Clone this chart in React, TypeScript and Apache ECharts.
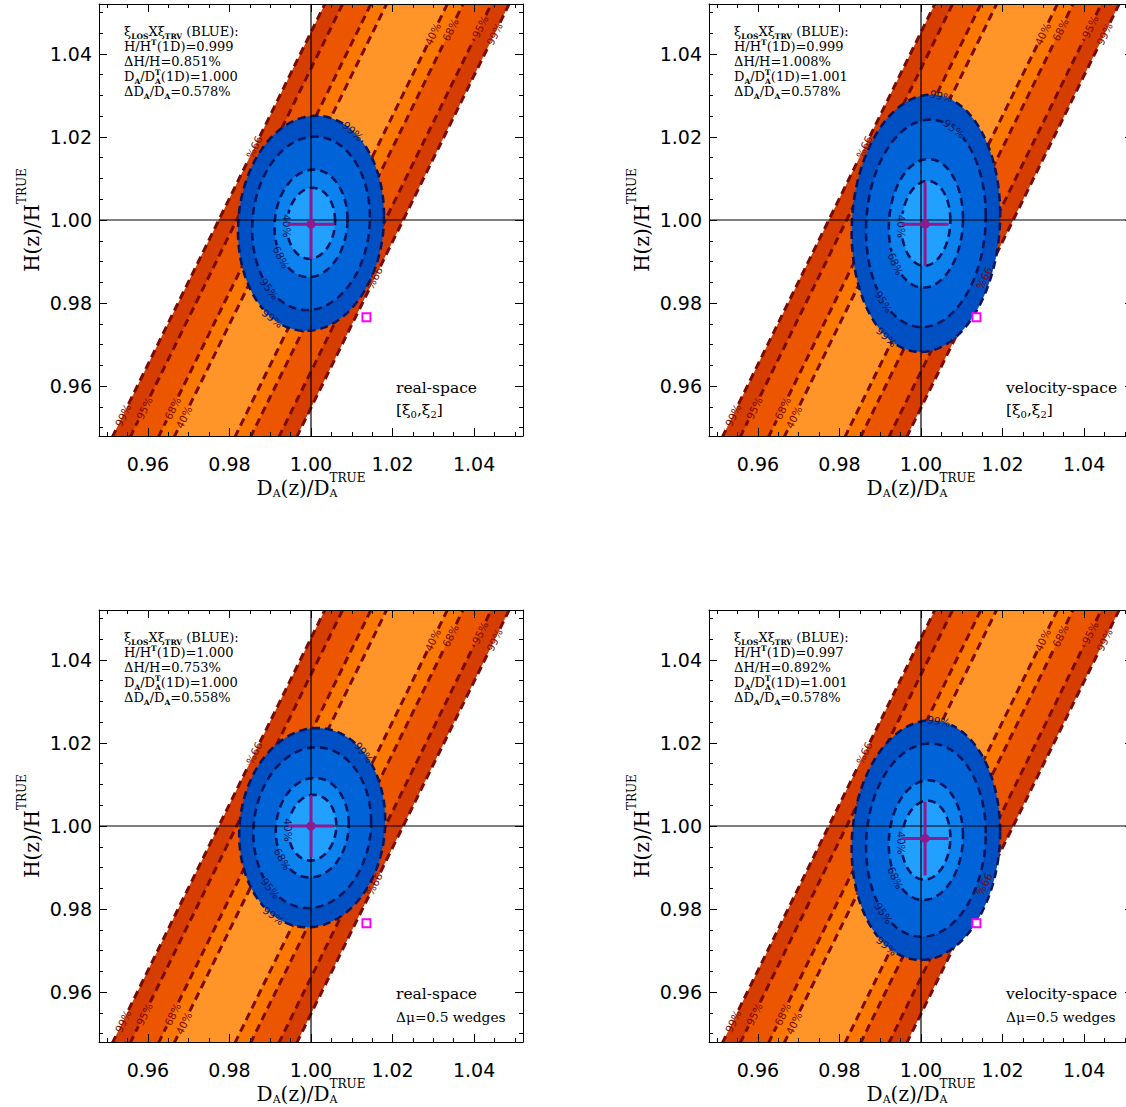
import React, { useEffect, useRef } from "react";
import * as echarts from "echarts";

// ---- axes (shared by the four panels) ----
const AXIS_MIN = 0.948;
const AXIS_MAX = 1.052;
const MAJOR_TICKS = [0.96, 0.98, 1.0, 1.02, 1.04];
const MINOR_TICKS = [
  0.95, 0.955, 0.96, 0.965, 0.97, 0.975, 0.98, 0.985, 0.99, 0.995, 1.0,
  1.005, 1.01, 1.015, 1.02, 1.025, 1.03, 1.035, 1.04, 1.045, 1.05,
];

// ---- confidence levels, outermost first (2-D delta chi-square) ----
const LEVEL_NAMES = ["99%", "95%", "68%", "40%"];
const LEVEL_CHI2 = [9.21, 5.99, 2.3, 1.0];

// ---- orange degeneracy band: centre, dx/dy slope, 1-sigma horizontal width ----
const BAND_CENTER = [1.0, 1.0];
const BAND_DXDY = 0.5;
const BAND_SIGMA_X = 0.00745;

// ---- blue constraints (xi_LOS x xi_TRV), one entry per panel ----
const SPACE_TAGS = ["real-space", "velocity-space", "real-space", "velocity-space"];
const ESTIMATOR_TAGS = ["multipoles", "multipoles", "wedges", "wedges"];
// 1-D marginalised results (point + error bars)
const H_FIT = [0.999, 0.999, 1.0, 0.997];
const H_ERR_PCT = [0.851, 1.008, 0.753, 0.892];
const DA_FIT = [1.0, 1.001, 1.0, 1.001];
const DA_ERR_PCT = [0.578, 0.578, 0.558, 0.578];
// 2-D likelihood ellipse: centre, widths and correlation
const ELL_X0 = [1.0, 1.0012, 1.0003, 1.0012];
const ELL_Y0 = [0.9992, 0.9992, 0.9996, 0.9966];
const ELL_SX = [0.0059, 0.006, 0.0059, 0.006];
const ELL_SY = [0.00853, 0.0102, 0.0079, 0.0095];
const ELL_RHO = [0.07, 0.07, 0.07, 0.07];

// ---- reference marker ----
const REF_POINT = [1.0136, 0.9766];

// ---- contour label placement ----
const BAND_LABEL_Y_LOW = [0.953, 0.9547, 0.9547, 0.9525]; // left edges, near the bottom
const BAND_LABEL_Y_HIGH = [1.0448, 1.0465, 1.0458, 1.0448]; // right edges, near the top
const BAND_LABEL_Y_MID = [1.0175, 0.986]; // 99% edges beside the ellipse (left, right)
const ELLIPSE_LABEL_ANGLES = [
  [[3, 180], [2, 215], [1, 225], [0, 238], [0, 55]],
  [[3, 180], [2, 215], [1, 225], [0, 238], [0, 78], [1, 62]],
  [[3, 180], [2, 215], [1, 225], [0, 238], [0, 45]],
  [[3, 180], [2, 215], [1, 225], [0, 238], [0, 80]],
];

// ---- layout & style ----
const GRID_LEFT = [99, 709, 99, 709];
const GRID_TOP = [4, 4, 610, 610];
const GRID_W = 424;
const GRID_H = 432;
const ORANGE_FILLS = ["#D63D00", "#EC5600", "#FA7700", "#FF9529"];
const BLUE_FILLS = ["#0050C4", "#0064D8", "#0C82EE", "#21A0FF"];
const ORANGE_LINE = "#7A0A05";
const BLUE_LINE = "#08155E";
const PURPLE = "#8E1A8E";
const SANS = '"DejaVu Sans", sans-serif';
const SERIF = '"DejaVu Serif", serif';
const LABEL_GAP = 12; // px of contour line left out around each level label

let measureCtx: CanvasRenderingContext2D | null = null;
function textWidth(t: string, font: string): number {
  if (!measureCtx) measureCtx = document.createElement("canvas").getContext("2d");
  measureCtx!.font = font;
  return measureCtx!.measureText(t).width;
}

type Seg = { t: string; s?: number; dy?: number; bold?: boolean; stack?: boolean };

// lays out a run of text pieces (with sub/superscripts) along a common baseline at y = 0
function layoutSegs(segs: Seg[], family: string, base: number, color: string) {
  const items: any[] = [];
  let x = 0;
  let stackW = 0;
  let stacked = false;
  for (const sg of segs) {
    const size = sg.s ?? base;
    const font = `${sg.bold ? "bold " : ""}${size}px ${family}`;
    const w = textWidth(sg.t, font);
    items.push({
      type: "text",
      x,
      y: (sg.dy ?? 0) - 0.32 * size,
      style: { text: sg.t, font, fill: color, textAlign: "left", textVerticalAlign: "middle" },
    });
    if (sg.stack) {
      stackW = Math.max(stackW, w);
      stacked = true;
    } else {
      x += stacked ? Math.max(stackW, w) : w;
      stacked = false;
      stackW = 0;
    }
  }
  return { items, width: x };
}

function mathText(x: number, y: number, segs: Seg[], family: string, base: number, color: string, align: "left" | "center", rotation = 0) {
  const { items, width } = layoutSegs(segs, family, base, color);
  return {
    type: "group",
    x,
    y,
    rotation,
    children: [{ type: "group", x: align === "center" ? -width / 2 : 0, y: 0, children: items }],
  };
}

const bandX = (y: number) => BAND_CENTER[0] + BAND_DXDY * (y - BAND_CENTER[1]);

function ellipsePoint(p: number, k: number, t: number): number[] {
  const r = ELL_RHO[p];
  return [
    ELL_X0[p] + k * ELL_SX[p] * Math.cos(t),
    ELL_Y0[p] + k * ELL_SY[p] * (r * Math.cos(t) + Math.sqrt(1 - r * r) * Math.sin(t)),
  ];
}

// label rows: [kind, level, param, flip]; kind 0/1 = band left/right edge at y=param, kind 2 = ellipse at angle=param
function labelRows(p: number): number[][] {
  const rows: number[][] = [];
  LEVEL_NAMES.forEach((_, i) => rows.push([0, i, BAND_LABEL_Y_LOW[i], 0]));
  LEVEL_NAMES.forEach((_, i) => rows.push([1, i, BAND_LABEL_Y_HIGH[i], 0]));
  rows.push([0, 0, BAND_LABEL_Y_MID[0], 1]);
  rows.push([1, 0, BAND_LABEL_Y_MID[1], 1]);
  ELLIPSE_LABEL_ANGLES[p].forEach(([lv, ang]) => rows.push([2, lv, ang, 0]));
  return rows;
}

function normRot(r: number, flip: boolean) {
  while (r > Math.PI / 2 + 1e-6) r -= Math.PI;
  while (r <= -Math.PI / 2 + 1e-6) r += Math.PI;
  return flip ? r + Math.PI : r;
}

type Anchor = { x: number; y: number; rot: number; lv: number; key: string; band: boolean };

function anchorFor(p: number, row: number[], api: any): Anchor {
  const [kind, lv, param, flipFlag] = row;
  const k = Math.sqrt(LEVEL_CHI2[lv]);
  let a: number[];
  let b: number[];
  let key: string;
  if (kind < 2) {
    const side = kind === 0 ? -1 : 1;
    a = api.coord([bandX(param) + side * k * BAND_SIGMA_X, param]);
    b = api.coord([bandX(param + 0.002) + side * k * BAND_SIGMA_X, param + 0.002]);
    key = `b${side}_${lv}`;
  } else {
    const t = (param * Math.PI) / 180;
    a = api.coord(ellipsePoint(p, k, t));
    b = api.coord(ellipsePoint(p, k, t + 0.02));
    key = `e_${lv}`;
  }
  const rot = normRot(Math.atan2(-(b[1] - a[1]), b[0] - a[0]), flipFlag === 1);
  return { x: a[0], y: a[1], rot, lv, key, band: kind < 2 };
}

// splits a sampled contour into visible runs, leaving gaps where labels sit
function splitRuns(pts: number[][], anchors: Anchor[]): number[][][] {
  const runs: number[][][] = [];
  let cur: number[][] = [];
  for (const q of pts) {
    const hidden = anchors.some((a) => Math.hypot(q[0] - a.x, q[1] - a.y) < LABEL_GAP);
    if (hidden) {
      if (cur.length > 1) runs.push(cur);
      cur = [];
    } else cur.push(q);
  }
  if (cur.length > 1) runs.push(cur);
  return runs;
}

function panelAxes(p: number) {
  const base = { type: "value", gridIndex: p, min: AXIS_MIN, max: AXIS_MAX, splitLine: { show: false }, z: 10, silent: true };
  const line = { show: true, onZero: false, lineStyle: { color: "#000", width: 1 } };
  const noLine = { show: false, onZero: false };
  const tick = (vals: number[], len: number) => ({ show: true, inside: true, length: len, customValues: vals, lineStyle: { color: "#000", width: 1 } });
  const label = (margin: number) => ({
    show: true,
    customValues: MAJOR_TICKS,
    formatter: (v: number) => v.toFixed(2),
    margin,
    fontSize: 19,
    fontFamily: SANS,
    color: "#000",
  });
  const hidden = { show: false };
  const xs = [
    { ...base, position: "bottom", axisLine: line, axisTick: tick(MAJOR_TICKS, 8), axisLabel: label(18) },
    { ...base, position: "bottom", axisLine: noLine, axisTick: tick(MINOR_TICKS, 4), axisLabel: hidden },
    { ...base, position: "top", axisLine: line, axisTick: tick(MAJOR_TICKS, 8), axisLabel: hidden },
    { ...base, position: "top", axisLine: noLine, axisTick: tick(MINOR_TICKS, 4), axisLabel: hidden },
  ];
  const ys = [
    { ...base, position: "left", axisLine: line, axisTick: tick(MAJOR_TICKS, 8), axisLabel: label(7) },
    { ...base, position: "left", axisLine: noLine, axisTick: tick(MINOR_TICKS, 4), axisLabel: hidden },
    { ...base, position: "right", axisLine: line, axisTick: tick(MAJOR_TICKS, 8), axisLabel: hidden },
    { ...base, position: "right", axisLine: noLine, axisTick: tick(MINOR_TICKS, 4), axisLabel: hidden },
  ];
  return { xs, ys };
}

function panelSeries(p: number) {
  const ax = { xAxisIndex: 4 * p, yAxisIndex: 4 * p, silent: true, clip: true };
  const levels = LEVEL_CHI2.map((c, i) => [c, i]);
  const yEnds = [AXIS_MIN - 0.02, AXIS_MAX + 0.02];
  const rows = labelRows(p);
  const anchorsOf = (api: any) => rows.map((r) => anchorFor(p, r, api));

  const bandFill = {
    type: "custom",
    ...ax,
    z: 1,
    data: levels,
    renderItem: (_: any, api: any) => {
      const i = api.value(1);
      const hw = Math.sqrt(api.value(0)) * BAND_SIGMA_X;
      const pts = [
        [bandX(yEnds[0]) - hw, yEnds[0]],
        [bandX(yEnds[1]) - hw, yEnds[1]],
        [bandX(yEnds[1]) + hw, yEnds[1]],
        [bandX(yEnds[0]) + hw, yEnds[0]],
      ].map((q) => api.coord(q));
      return { type: "polygon", shape: { points: pts }, style: { fill: ORANGE_FILLS[i] } };
    },
  };

  const bandLines = {
    type: "custom",
    ...ax,
    z: 2,
    data: levels,
    renderItem: (_: any, api: any) => {
      const lv = api.value(1);
      const hw = Math.sqrt(api.value(0)) * BAND_SIGMA_X;
      const anchors = anchorsOf(api);
      const children: any[] = [];
      [-1, 1].forEach((side) => {
        const pts: number[][] = [];
        const n = 400;
        for (let j = 0; j <= n; j++) {
          const y = yEnds[0] + ((yEnds[1] - yEnds[0]) * j) / n;
          pts.push(api.coord([bandX(y) + side * hw, y]));
        }
        const mine = anchors.filter((a) => a.key === `b${side}_${lv}`);
        splitRuns(pts, mine).forEach((run) =>
          children.push({
            type: "polyline",
            shape: { points: run },
            style: { stroke: ORANGE_LINE, lineWidth: 3, lineDash: [8, 5], fill: "none" },
          }),
        );
      });
      return { type: "group", children };
    },
  };

  const ellipsePts = (api: any, k: number) => {
    const pts: number[][] = [];
    for (let j = 0; j <= 360; j++) pts.push(api.coord(ellipsePoint(p, k, (j / 360) * 2 * Math.PI)));
    return pts;
  };

  const ellipseFill = {
    type: "custom",
    ...ax,
    z: 3,
    data: levels,
    renderItem: (_: any, api: any) => ({
      type: "polygon",
      shape: { points: ellipsePts(api, Math.sqrt(api.value(0))) },
      style: { fill: BLUE_FILLS[api.value(1)] },
    }),
  };

  const ellipseLines = {
    type: "custom",
    ...ax,
    z: 4,
    data: levels,
    renderItem: (_: any, api: any) => {
      const lv = api.value(1);
      const mine = anchorsOf(api).filter((a) => a.key === `e_${lv}`);
      const runs = splitRuns(ellipsePts(api, Math.sqrt(api.value(0))), mine);
      return {
        type: "group",
        children: runs.map((run) => ({
          type: "polyline",
          shape: { points: run },
          style: { stroke: BLUE_LINE, lineWidth: 2.6, lineDash: [8, 5], fill: "none" },
        })),
      };
    },
  };

  const crosshair = {
    type: "custom",
    ...ax,
    z: 5,
    data: [[1.0, 1.0]],
    renderItem: (_: any, api: any) => {
      const x = api.value(0);
      const y = api.value(1);
      const v0 = api.coord([x, AXIS_MIN]);
      const v1 = api.coord([x, AXIS_MAX]);
      const h0 = api.coord([AXIS_MIN, y]);
      const h1 = api.coord([AXIS_MAX, y]);
      return {
        type: "group",
        children: [
          { type: "line", shape: { x1: v0[0], y1: v0[1], x2: v1[0], y2: v1[1] }, style: { stroke: "#000", lineWidth: 1.2 } },
          { type: "line", shape: { x1: h0[0], y1: h0[1], x2: h1[0], y2: h1[1] }, style: { stroke: "#000", lineWidth: 1.2 } },
        ],
      };
    },
  };

  const labels = {
    type: "custom",
    ...ax,
    clip: false,
    z: 6,
    data: rows,
    renderItem: (params: any, api: any) => {
      const a = anchorFor(p, rows[params.dataIndex], api);
      return {
        type: "text",
        x: a.x,
        y: a.y,
        rotation: a.rot,
        style: {
          text: LEVEL_NAMES[a.lv],
          font: `10.5px ${SANS}`,
          fill: a.band ? ORANGE_LINE : BLUE_LINE,
          textAlign: "center",
          textVerticalAlign: "middle",
        },
      };
    },
  };

  const errBar = {
    type: "custom",
    ...ax,
    z: 7,
    data: [[DA_FIT[p], H_FIT[p], (DA_ERR_PCT[p] / 100) * DA_FIT[p], (H_ERR_PCT[p] / 100) * H_FIT[p]]],
    renderItem: (_: any, api: any) => {
      const x = api.value(0);
      const y = api.value(1);
      const ex = api.value(2);
      const ey = api.value(3);
      const c = api.coord([x, y]);
      const l = api.coord([x - ex, y]);
      const r = api.coord([x + ex, y]);
      const d = api.coord([x, y - ey]);
      const u = api.coord([x, y + ey]);
      return {
        type: "group",
        children: [
          { type: "line", shape: { x1: l[0], y1: l[1], x2: r[0], y2: r[1] }, style: { stroke: PURPLE, lineWidth: 3 } },
          { type: "line", shape: { x1: d[0], y1: d[1], x2: u[0], y2: u[1] }, style: { stroke: PURPLE, lineWidth: 3 } },
          { type: "circle", shape: { cx: c[0], cy: c[1], r: 4.5 }, style: { fill: PURPLE } },
        ],
      };
    },
  };

  const refMarker = {
    type: "scatter",
    xAxisIndex: 4 * p,
    yAxisIndex: 4 * p,
    silent: true,
    z: 8,
    data: [REF_POINT],
    symbol: "rect",
    symbolSize: 8,
    itemStyle: { color: "#ffffff", borderColor: "#FF00FF", borderWidth: 2, opacity: 1 },
  };

  return [bandFill, bandLines, ellipseFill, ellipseLines, crosshair, labels, errBar, refMarker];
}

function panelGraphics(p: number) {
  const left = GRID_LEFT[p];
  const top = GRID_TOP[p];
  const els: any[] = [];

  // axis titles
  const sub = { s: 11, dy: 3 };
  const sup = { s: 12, dy: -12 };
  els.push(
    mathText(left + GRID_W / 2, top + GRID_H + 58, [
      { t: "D", s: 20 },
      { t: "A", ...sub },
      { t: "(z)/D", s: 20 },
      { t: "A", ...sub, stack: true },
      { t: "TRUE", ...sup },
    ], SERIF, 20, "#000", "center"),
  );
  els.push(
    mathText(left - 61, top + GRID_H / 2, [
      { t: "H(z)/H", s: 20 },
      { t: "TRUE", ...sup },
    ], SERIF, 20, "#000", "center", Math.PI / 2),
  );

  // fit summary block
  const fs = 13;
  const small = 7.5;
  const ax = left + 25;
  const lines: Seg[][] = [
    [
      { t: "ξ" },
      { t: "LOS", s: small, dy: 3, bold: true },
      { t: "X" },
      { t: "ξ" },
      { t: "TRV", s: small, dy: 3, bold: true },
      { t: " (BLUE):" },
    ],
    [{ t: "H/H" }, { t: "T", s: small, dy: -6, bold: true }, { t: `(1D)=${H_FIT[p].toFixed(3)}` }],
    [{ t: `ΔH/H=${H_ERR_PCT[p].toFixed(3)}%` }],
    [
      { t: "D" },
      { t: "A", s: small, dy: 3, bold: true },
      { t: "/D" },
      { t: "A", s: small, dy: 3, bold: true, stack: true },
      { t: "T", s: small, dy: -6, bold: true },
      { t: `(1D)=${DA_FIT[p].toFixed(3)}` },
    ],
    [
      { t: "ΔD" },
      { t: "A", s: small, dy: 3, bold: true },
      { t: "/D" },
      { t: "A", s: small, dy: 3, bold: true },
      { t: `=${DA_ERR_PCT[p].toFixed(3)}%` },
    ],
  ];
  lines.forEach((segs, i) => els.push(mathText(ax, top + 32 + i * 15, segs, SERIF, fs, "#000", "left")));

  // space / estimator tags
  const tx = left + 297;
  els.push(mathText(tx, top + 389, [{ t: SPACE_TAGS[p] }], SERIF, 15.5, "#000", "left"));
  const second: Seg[] =
    ESTIMATOR_TAGS[p] === "wedges"
      ? [{ t: "Δμ=0.5 wedges" }]
      : [{ t: "[ξ" }, { t: "0", s: 10, dy: 3 }, { t: ",ξ" }, { t: "2", s: 10, dy: 3 }, { t: "]" }];
  els.push(mathText(tx, top + 411, second, SERIF, ESTIMATOR_TAGS[p] === "wedges" ? 13.8 : 15.5, "#000", "left"));
  return els;
}

export default function App() {
  const ref = useRef<HTMLDivElement>(null);
  useEffect(() => {
    if (!ref.current) return;
    const chart = echarts.init(ref.current, undefined, { renderer: "svg" });
    const grids: any[] = [];
    const xAxis: any[] = [];
    const yAxis: any[] = [];
    const series: any[] = [];
    const graphics: any[] = [];
    for (let p = 0; p < 4; p++) {
      grids.push({ left: GRID_LEFT[p], top: GRID_TOP[p], width: GRID_W, height: GRID_H, show: false, containLabel: false, outerBoundsMode: "none" });
      const { xs, ys } = panelAxes(p);
      xAxis.push(...xs);
      yAxis.push(...ys);
      series.push(...panelSeries(p));
      graphics.push(...panelGraphics(p));
    }
    chart.setOption({
      animation: false,
      backgroundColor: "#ffffff",
      grid: grids,
      xAxis,
      yAxis,
      series,
      graphic: { elements: graphics },
    });
    return () => chart.dispose();
  }, []);
  return <div ref={ref} style={{ position: "absolute", left: 0, top: 0, width: 1126, height: 1107 }} />;
}
